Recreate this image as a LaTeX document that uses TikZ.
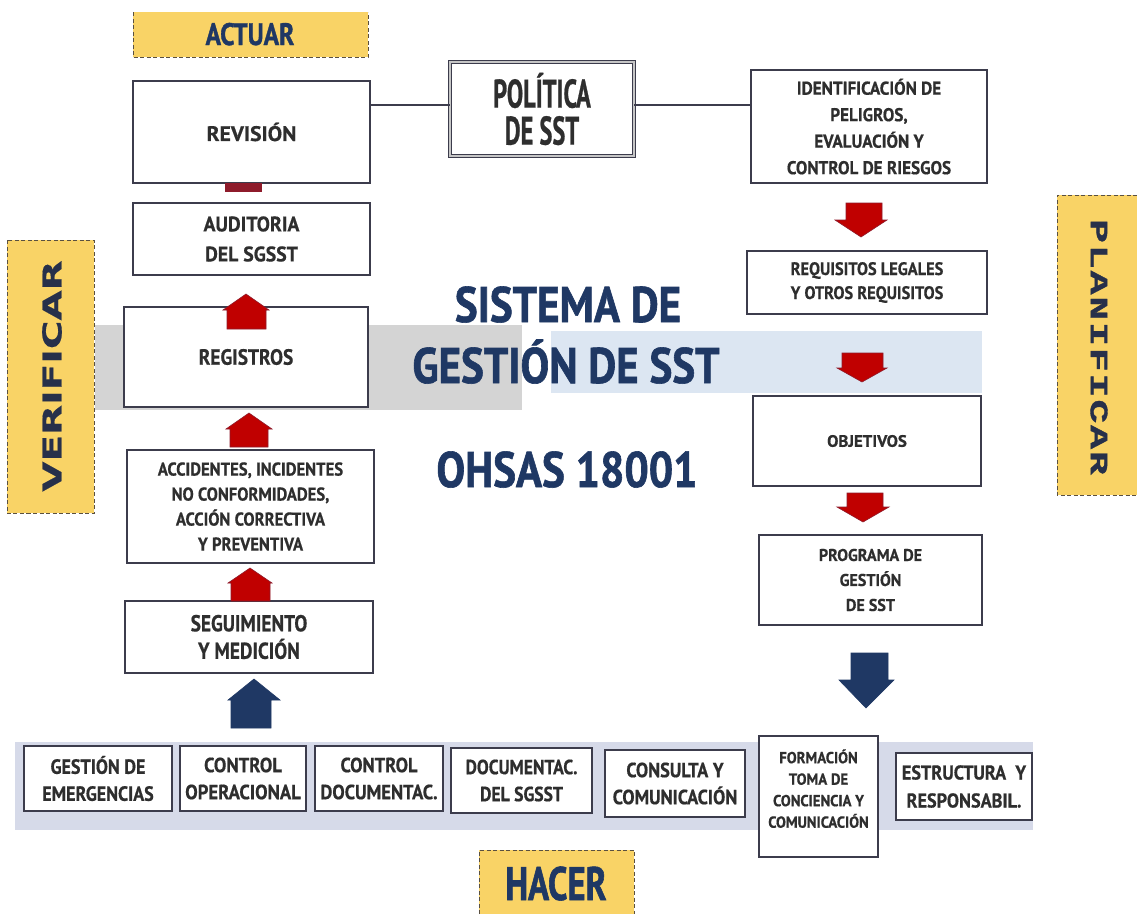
\documentclass[tikz,border=0pt]{standalone}
\usepackage{fontspec}
\newfontfamily\cf{PT Sans}
\newfontfamily\vf{DejaVu Sans}
\newfontfamily\mf{Liberation Mono}
\definecolor{bord}{HTML}{3C3C4C}
\definecolor{txt}{HTML}{2E2E2E}
\definecolor{navy}{HTML}{1F3864}
\definecolor{yel}{HTML}{F9D366}
\definecolor{redA}{HTML}{C00000}
\definecolor{redB}{HTML}{8E1B2B}
\definecolor{gband}{HTML}{D4D4D4}
\definecolor{bband}{HTML}{DCE6F2}
\definecolor{hband}{HTML}{D6DAE9}
\definecolor{dashc}{HTML}{5A5040}
\definecolor{vtext}{HTML}{27304A}
\newcommand\fs[3]{\cf\bfseries\fontsize{#1}{#2}\selectfont\addfontfeature{FakeStretch=#3,FakeBold=0.6}}
\newcommand\tfs[3]{\cf\bfseries\fontsize{#1}{#2}\selectfont\addfontfeature{FakeStretch=#3,FakeBold=1.2}}
% [opts]{name}{x1}{y1}{x2}{y2}{text}
\newcommand\rbox[7][]{\node[bx,minimum width={#5-#3},minimum height={#6-#4},#1] (#2) at ({(#3+#5)/2},{(#4+#6)/2}) {#7};}
% colour, tipx, tipy, wingy, wingL, wingR, shaftL, shaftR, shaftEnd
\newcommand\barrow[9]{\filldraw[#1] (#2,#3) -- (#5,#4) -- (#7,#4) -- (#7,#9) -- (#8,#9) -- (#8,#4) -- (#6,#4) -- cycle;}
\begin{document}
\begin{tikzpicture}[x=1pt,y=-1pt,
  bx/.style={draw=bord,line width=1.3pt,fill=white,text=txt,align=center,inner sep=0pt},
  dsh/.style={draw=dashc,line width=1pt,dash pattern=on 4pt off 2.5pt},
  conn/.style={draw=bord,line width=1.3pt},
  redarr/.style={fill=redA,draw=redB,line width=0.6pt},
  bluearr/.style={fill=navy,draw=navy,line width=0.6pt},
  ttl/.style={text=navy,anchor=base,inner sep=0pt}]
\fill[white] (0,0) rectangle (1137,914);
\useasboundingbox (0,0) rectangle (1137,914);
% bands
\fill[gband] (95,325) rectangle (522,410);
\fill[bband] (551,331) rectangle (982,393);
\fill[hband] (15,742) rectangle (1033,830);
% phase labels
\fill[yel] (133,12) rectangle (368,57);
\draw[dsh] (133,12) -- (133,57) -- (368,57) -- (368,12);
\fill[yel] (7,240) rectangle (94,513);
\draw[dsh] (7,240) rectangle (94,513);
\fill[yel] (1057,195) rectangle (1137,495);
\draw[dsh] (1137,195) -- (1057,195) -- (1057,495) -- (1137,495);
\fill[yel] (479,850) rectangle (634,914);
\draw[dsh] (479,914) -- (479,850) -- (634,850) -- (634,914);
\node[ttl,font=\tfs{31}{31}{0.82}] (actuar) at (250,45) {ACTUAR};
\node[ttl,font=\tfs{47}{47}{0.74}] (hacer) at (556,900) {HACER};
\node[rotate=90,text=vtext,inner sep=0pt,font=\vf\bfseries\fontsize{26}{26}\selectfont\addfontfeature{FakeStretch=1.5,FakeBold=0.5}] (verif) at (52,376) {VERIFICAR};
\node[rotate=-90,text=vtext,inner sep=0pt,font=\mf\bfseries\fontsize{25}{25}\selectfont\addfontfeature{FakeStretch=1.6,LetterSpace=7,FakeBold=1.5}] (planif) at (1099,347) {PLANIFICAR};
% title
\node[ttl,font=\tfs{50}{50}{0.86}] (t1) at (568,322) {SISTEMA DE};
\node[ttl,font=\tfs{50}{50}{0.86}] (t2) at (566,383) {GESTIÓN DE SST};
\node[ttl,font=\tfs{50}{50}{0.86}] (t3) at (567,487) {OHSAS 18001};
% left column
\rbox[font=\fs{21}{30}{1.03}]{rev}{133}{81}{370}{183}{REVISIÓN}
\rbox[font=\fs{21}{30}{0.94}]{aud}{133}{203}{370}{275}{AUDITORIA\\DEL SGSST}
\rbox[font=\fs{22}{30}{0.88}]{reg}{124}{307}{368}{407}{REGISTROS}
\rbox[font=\fs{18.5}{25}{0.90}]{acc}{127}{450}{374}{563}{ACCIDENTES, INCIDENTES\\NO CONFORMIDADES,\\ACCIÓN CORRECTIVA\\Y PREVENTIVA}
\rbox[font=\fs{23}{27.5}{0.84}]{seg}{125}{601}{373}{673}{SEGUIMIENTO\\Y MEDICIÓN}
% politica
\rbox[draw=bord,double=gray!45,double distance=2.2pt,line width=0.8pt,font=\fs{40}{37}{0.61}]{pol}{450}{62}{634}{156}{POLÍTICA\\DE SST}
% right column
\rbox[font=\fs{18.5}{26.5}{0.925}]{ident}{751}{70}{987}{183}{IDENTIFICACIÓN DE\\PELIGROS,\\EVALUACIÓN Y\\CONTROL DE RIESGOS}
\rbox[font=\fs{18}{24}{0.91}]{req}{747}{251}{987}{314}{REQUISITOS LEGALES\\Y OTROS REQUISITOS}
\rbox[font=\fs{16.5}{24}{1.02}]{obj}{753}{396}{981}{486}{OBJETIVOS}
\rbox[font=\fs{17}{25}{0.945}]{prog}{759}{535}{982}{625}{PROGRAMA DE\\GESTIÓN\\DE SST}
% bottom row
\rbox[font=\fs{20.5}{27}{0.88}]{b1}{24}{746}{172}{811}{GESTIÓN DE\\EMERGENCIAS}
\rbox[font=\fs{20.5}{27}{0.91}]{b2}{180}{746}{306}{811}{CONTROL\\OPERACIONAL}
\rbox[font=\fs{20.5}{27}{0.90}]{b3}{315}{746}{443}{811}{CONTROL\\DOCUMENTAC.}
\rbox[font=\fs{20.5}{27}{0.86}]{b4}{451}{748}{592}{813}{DOCUMENTAC.\\DEL SGSST}
\rbox[font=\fs{20.5}{27}{0.89}]{b5}{605}{750}{745}{817}{CONSULTA Y\\COMUNICACIÓN}
\rbox[font=\fs{16}{21.5}{0.92},text depth=16pt]{b6}{759}{736}{878}{857}{FORMACIÓN\\TOMA DE\\CONCIENCIA Y\\COMUNICACIÓN}
\rbox[font=\fs{20}{28}{0.91}]{b7}{896}{753}{1032}{820}{ESTRUCTURA\ \ Y\\RESPONSABIL.}
% connectors
\draw[conn] (rev.east |- 0,105) -- (pol.west |- 0,105);
\draw[conn] (pol.east |- 0,105) -- (ident.west |- 0,105);
% red bar
\fill[redB] (225,183) rectangle (262,192);
% left arrows (up)
\barrow{redarr}{246}{294}{310}{223}{269}{227}{266}{329}
\barrow{redarr}{249}{413}{429}{226}{272}{230}{268}{447}
\barrow{redarr}{250}{568}{583}{228}{272}{231}{270}{601}
\barrow{bluearr}{254}{679}{700}{228}{280}{231}{271}{728}
% right arrows (down)
\barrow{redarr}{861}{237}{220}{835}{887}{846}{882}{203}
\barrow{redarr}{862}{382}{368}{837}{887}{842}{883}{353}
\barrow{redarr}{863}{522}{507}{837}{889}{847}{883}{493}
\barrow{bluearr}{866}{708}{680}{839}{894}{851}{888}{653}
\end{tikzpicture}
\end{document}
